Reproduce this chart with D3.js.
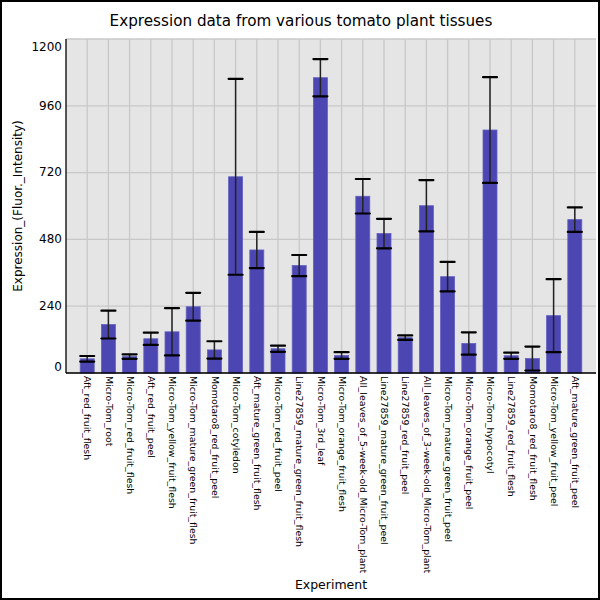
<!DOCTYPE html>
<html><head><meta charset="utf-8">
<script src="https://cdn.jsdelivr.net/npm/d3@7"></script>
<style>body{margin:0;background:#fff}svg{display:block}</style>
</head><body>
<svg id="chart" width="600" height="600"></svg>
<script>
const categories = ["Aft_red_fruit_flesh","Micro-Tom_root","Micro-Tom_red_fruit_flesh","Aft_red_fruit_peel","Micro-Tom_yellow_fruit_flesh","Micro-Tom_mature_green_fruit_flesh","Momotaro8_red_fruit_peel","Micro-Tom_cotyledon","Aft_mature_green_fruit_flesh","Micro-Tom_red_fruit_peel","Line27859_mature_green_fruit_flesh","Micro-Tom_3rd_leaf","Micro-Tom_orange_fruit_flesh","All_leaves_of_5-week-old_Micro-Tom_plant","Line27859_mature_green_fruit_peel","Line27859_red_fruit_peel","All_leaves_of_3-week-old_Micro-Tom_plant","Micro-Tom_mature_green_fruit_peel","Micro-Tom_orange_fruit_peel","Micro-Tom_hypocotyl","Line27859_red_fruit_flesh","Momotaro8_red_fruit_flesh","Micro-Tom_yellow_fruit_peel","Aft_mature_green_fruit_peel"];
const means = [51,174,59,123,148,238,83,705,442,87,386,1061,63,635,501,127,601,346,106,873,62,52,206,551];
const errs  = [10,50,8,22,85,50,31,352,65,11,38,67,12,62,53,8,92,53,40,190,11,43,131,44];
const yTicks = [0,240,480,720,960,1200];

const svg = d3.select("#chart");
const L=66, R=596, T=39, B=373;
const x = d3.scalePoint().domain(categories).range([L,R]).padding(1);
const y = d3.scaleLinear().domain([0,1200]).range([B,T]);

svg.append("rect").attr("x",1).attr("y",1).attr("width",598).attr("height",598)
  .attr("fill","#fff").attr("stroke","#000").attr("stroke-width",2);
svg.append("rect").attr("x",L).attr("y",T).attr("width",R-L).attr("height",B-T).attr("fill","#e5e5e5");

// grid
svg.append("g").selectAll("line").data(yTicks).join("line")
  .attr("x1",L).attr("x2",R).attr("y1",d=>y(d)).attr("y2",d=>y(d))
  .attr("stroke","#c8c8c8").attr("stroke-width",1.3);
svg.append("g").selectAll("line").data(categories).join("line")
  .attr("x1",d=>x(d)).attr("x2",d=>x(d)).attr("y1",T).attr("y2",B)
  .attr("stroke","#c8c8c8").attr("stroke-width",1.3);

// bars
const bw = 14;
svg.append("g").selectAll("rect").data(categories).join("rect")
  .attr("x",d=>x(d)-bw/2).attr("width",bw)
  .attr("y",(d,i)=>y(means[i])).attr("height",(d,i)=>y(0)-y(means[i]))
  .attr("fill","#4b46b2").attr("stroke","#6360c0").attr("stroke-width",0.8);

// error bars
const eg = svg.append("g");
categories.forEach((c,i)=>{
  const cx = x(c), hi = y(means[i]+errs[i]), lo = y(means[i]-errs[i]);
  eg.append("line").attr("x1",cx).attr("x2",cx).attr("y1",hi).attr("y2",lo).attr("stroke","#222").attr("stroke-width",1.5);
  [hi,lo].forEach(v=>eg.append("line").attr("x1",cx-7).attr("x2",cx+7).attr("y1",v).attr("y2",v).attr("stroke","#000").attr("stroke-width",2.2).attr("stroke-linecap","round"));
});

// axes
const yAxis = svg.append("g").attr("transform",`translate(${L},0)`)
  .call(d3.axisLeft(y).tickValues(yTicks).tickFormat(d3.format("d")).tickSize(0).tickPadding(4));
yAxis.select(".domain").remove();
// keep the end labels inside the plot's vertical range
yAxis.selectAll(".tick").attr("transform",d=>`translate(0,${Math.max(T+7.7,Math.min(B-6.3,y(d)))})`);
yAxis.selectAll("text").attr("font-family","DejaVu Sans").attr("font-size",12).attr("fill","#000");
svg.append("line").attr("x1",L).attr("x2",L).attr("y1",T).attr("y2",B).attr("stroke","#000").attr("stroke-width",1.3);
svg.append("line").attr("x1",L).attr("x2",R).attr("y1",B).attr("y2",B).attr("stroke","#000").attr("stroke-width",1.3);

const xAxis = svg.append("g").attr("transform",`translate(0,${B})`)
  .call(d3.axisBottom(x).tickSize(0).tickPadding(0));
xAxis.select(".domain").remove();
xAxis.selectAll("text").attr("font-family","DejaVu Sans").attr("font-size",9.4).attr("fill","#000")
  .attr("transform","rotate(90)").attr("text-anchor","start").attr("x",3).attr("y",0).attr("dy","0.35em");

svg.append("text").attr("x",301).attr("y",26).attr("text-anchor","middle")
  .attr("font-family","DejaVu Sans").attr("font-size",15.2).text("Expression data from various tomato plant tissues");
svg.append("text").attr("transform",`translate(22,${(T+B)/2}) rotate(-90)`).attr("text-anchor","middle")
  .attr("font-family","DejaVu Sans").attr("font-size",12).text("Expression_(Fluor._Intensity)");
svg.append("text").attr("x",(L+R)/2).attr("y",589).attr("text-anchor","middle")
  .attr("font-family","DejaVu Sans").attr("font-size",12.5).text("Experiment");
</script>
</body></html>
